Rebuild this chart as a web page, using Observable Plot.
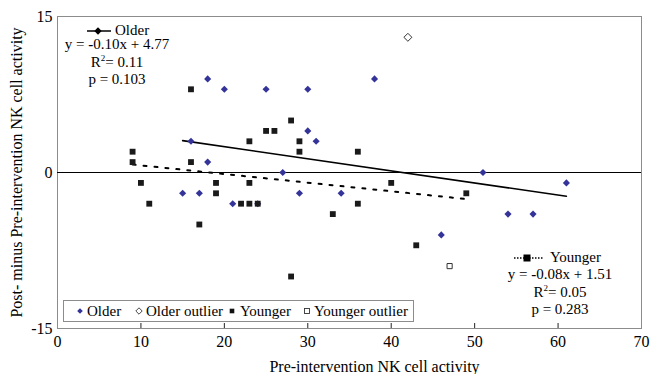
<!DOCTYPE html>
<html><head><meta charset="utf-8">
<script src="https://cdn.jsdelivr.net/npm/d3@7"></script>
<script src="https://cdn.jsdelivr.net/npm/@observablehq/plot@0.6"></script>
<style>
html,body{margin:0;padding:0;background:#fff;}
#wrap{position:relative;width:652px;height:374px;font-family:"Liberation Serif","Times New Roman",serif;color:#000;overflow:hidden;}
#wrap svg{display:block;}
.ann{position:absolute;font-size:15px;line-height:12px;height:12px;text-align:center;white-space:nowrap;}
.legend{position:absolute;left:63px;top:300px;width:351px;height:22px;border:1px solid #8c8c8c;background:#fff;box-sizing:border-box;font-size:15px;}
.li{position:absolute;top:0;line-height:20px;white-space:nowrap;}
.mk{position:absolute;}
sup{font-size:9px;vertical-align:6px;line-height:0;}
</style></head>
<body><div id="wrap"></div>
<script>
// ---- data ----
const seriesNames = ["Older", "Older outlier", "Younger", "Younger outlier"];
const olderX = [18, 20, 16, 18, 38, 25, 30, 30, 31, 27, 51, 15, 17, 21, 24, 29, 34, 46, 54, 57, 61];
const olderY = [9, 8, 3, 1, 9, 8, 8, 4, 3, 0, 0, -2, -2, -3, -3, -2, -2, -6, -4, -4, -1];
const olderOutlierX = [42];
const olderOutlierY = [13];
const youngerX = [16, 23, 9, 9, 16, 28, 25, 26, 29, 29, 36, 10, 11, 17, 19, 19, 23, 22, 23, 24, 36, 33, 40, 28, 43, 49];
const youngerY = [8, 3, 2, 1, 1, 5, 4, 4, 3, 2, 2, -1, -3, -5, -1, -2, -1, -3, -3, -3, -3, -4, -1, -10, -7, -2];
const youngerOutlierX = [47];
const youngerOutlierY = [-9];
const xTicks = [0, 10, 20, 30, 40, 50, 60, 70];
const yTicks = [-15, 0, 15];
const xTitle = "Pre-intervention NK cell activity";
const yTitle = "Post- minus Pre-intervention NK cell activity";
const olderStats = ["y = -0.10x + 4.77", "R2= 0.11", "p = 0.103"];
const youngerStats = ["y = -0.08x + 1.51", "R2= 0.05", "p = 0.283"];

// ---- build tables ----
const toRows = (xs, ys) => xs.map((x, i) => ({x, y: ys[i]}));
const older = toRows(olderX, olderY);
const olderOut = toRows(olderOutlierX, olderOutlierY);
const younger = toRows(youngerX, youngerY);
const youngerOut = toRows(youngerOutlierX, youngerOutlierY);

const BLUE = "#333399";
const chart = Plot.plot({
  width: 652, height: 374,
  marginLeft: 57, marginRight: 11, marginTop: 16, marginBottom: 46,
  style: {fontFamily: "'Liberation Serif', 'Times New Roman', serif", fontSize: "16px", color: "#000", background: "#fff", overflow: "visible"},
  x: {domain: [0, 70]},
  y: {domain: [-15, 15]},
  marks: [
    Plot.frame({stroke: "#8c8c8c"}),
    Plot.ruleY([0], {stroke: "#000", strokeWidth: 1}),
    Plot.axisX({ticks: xTicks, tickSize: 0, tickPadding: 7, tickFormat: d => String(d), label: null, fontSize: 16}),
    Plot.axisX({ticks: xTicks.slice(1, -1), tickSize: -5, tickFormat: () => "", label: null, stroke: "#222"}),
    Plot.axisY({ticks: yTicks, tickSize: 0, tickPadding: 5, tickFormat: d => String(d), fontSize: 16,
      label: yTitle, labelAnchor: "center", labelArrow: "none", labelOffset: 47}),
    Plot.text([xTitle], {frameAnchor: "bottom", dx: 25, dy: 43, fontSize: 16}),
    Plot.linearRegressionY(older, {x: "x", y: "y", ci: 0, stroke: "#000", strokeWidth: 1.6}),
    Plot.linearRegressionY(younger, {x: "x", y: "y", ci: 0, stroke: "#000", strokeWidth: 2, strokeDasharray: "3,8"}),
    Plot.dot(older, {x: "x", y: "y", symbol: "diamond2", r: 3.2, fill: BLUE, stroke: "none"}),
    Plot.dot(olderOut, {x: "x", y: "y", symbol: "diamond2", r: 3.6, fill: "#fff", stroke: "#333", strokeWidth: 1}),
    Plot.dot(younger, {x: "x", y: "y", symbol: "square", r: 3.3, fill: "#1a1a1a", stroke: "none"}),
    Plot.dot(youngerOut, {x: "x", y: "y", symbol: "square", r: 2.9, fill: "#fff", stroke: "#333", strokeWidth: 1})
  ]
});
const wrap = document.getElementById("wrap");
wrap.appendChild(chart);

// ---- helpers for overlay text ----
const fmtStat = s => s.replace(/^y = -/, "y = <b>-</b>").replace(/^R2/, "R<sup>2</sup>");
function textLine(html, cx, centerY, align) {
  const d = document.createElement("div");
  d.className = "ann";
  if (align === "left") {
    d.style.left = cx + "px";
    d.style.textAlign = "left";
  } else {
    d.style.left = (cx - 100) + "px";
    d.style.width = "200px";
  }
  d.style.top = (centerY - 6.6) + "px";
  d.innerHTML = html;
  wrap.appendChild(d);
}
function svgAt(left, top, w, h, inner) {
  const d = document.createElement("div");
  d.className = "mk";
  d.style.left = left + "px"; d.style.top = top + "px";
  d.innerHTML = `<svg width="${w}" height="${h}" viewBox="0 0 ${w} ${h}">${inner}</svg>`;
  wrap.appendChild(d);
}

// Older trend legend (top-left)
svgAt(84, 24, 30, 14, `<line x1="3" y1="7" x2="27" y2="7" stroke="#000" stroke-width="1.5"/><path d="M14,3.3L17.7,7L14,10.7L10.3,7Z" fill="#000"/>`);
textLine(seriesNames[0], 115, 30.5, "left");
[45, 63, 80].forEach((cy, i) => textLine(fmtStat(olderStats[i]), 117, cy));

// Younger trend legend (bottom-right)
svgAt(512, 251, 34, 14, `<line x1="2" y1="7" x2="32" y2="7" stroke="#000" stroke-width="1.5" stroke-dasharray="1.5,1.5"/><rect x="11.5" y="3.5" width="7" height="7" fill="#000"/>`);
textLine(seriesNames[2], 550, 258, "left");
[275, 293, 310].forEach((cy, i) => textLine(fmtStat(youngerStats[i]), 560, cy));

// Series legend box (bottom-left inside plot)
const lg = document.createElement("div");
lg.className = "legend";
const items = [
  {mk: `<path d="M4,1.2L6.8,4L4,6.8L1.2,4Z" fill="${BLUE}"/>`, mx: 12, tx: 23},
  {mk: `<path d="M4,0.8L7.2,4L4,7.2L0.8,4Z" fill="#fff" stroke="#333" stroke-width="0.9"/>`, mx: 71, tx: 82},
  {mk: `<rect x="1.7" y="1.7" width="4.6" height="4.6" fill="#111"/>`, mx: 164, tx: 176},
  {mk: `<rect x="1.5" y="1.5" width="5" height="5" fill="#fff" stroke="#333" stroke-width="0.9"/>`, mx: 239, tx: 250}
];
items.forEach((it, i) => {
  const m = document.createElement("div");
  m.className = "mk";
  m.style.left = it.mx + "px"; m.style.top = "6px";
  m.innerHTML = `<svg width="8" height="8">${it.mk}</svg>`;
  lg.appendChild(m);
  const t = document.createElement("div");
  t.className = "li";
  t.style.left = it.tx + "px";
  t.textContent = seriesNames[i];
  lg.appendChild(t);
});
wrap.appendChild(lg);
</script></body></html>
